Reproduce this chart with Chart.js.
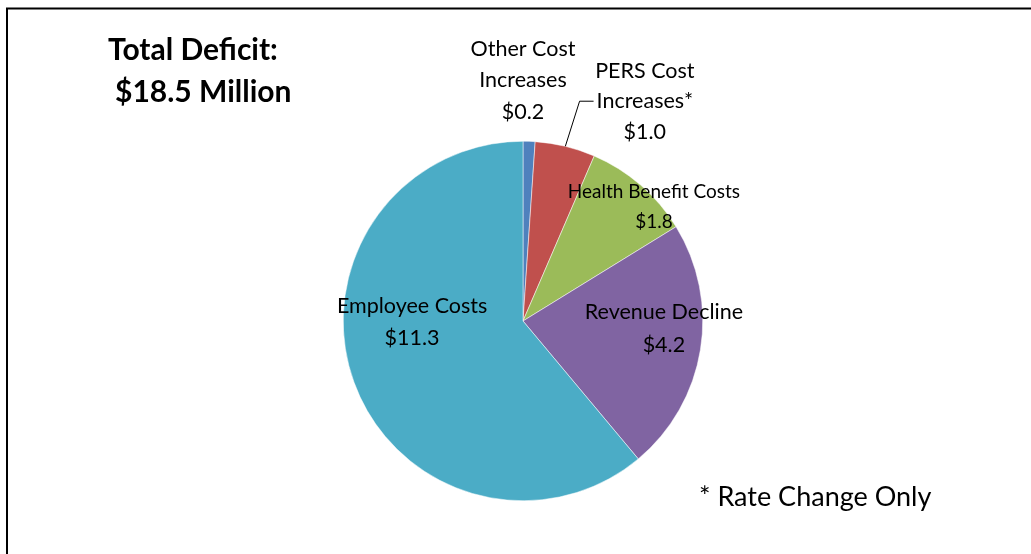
<!DOCTYPE html>
<html>
<head>
<meta charset="utf-8">
<script src="https://cdn.jsdelivr.net/npm/chart.js@4.4.1/dist/chart.umd.min.js"></script>
<style>
  html, body { margin: 0; padding: 0; background: #fff; }
  #wrap { position: relative; width: 1031px; height: 554px; }
  canvas { display: block; }
</style>
</head>
<body>
<div id="wrap"><canvas id="c" width="1031" height="554"></canvas></div>
<script>
// ---- data ----
const categories = [
  ["Other Cost", "Increases"],
  ["PERS Cost", "Increases*"],
  ["Health Benefit Costs"],
  ["Revenue Decline"],
  ["Employee Costs"]
];
const values = [0.2, 1.0, 1.8, 4.2, 11.3];
const valueLabels = ["$0.2", "$1.0", "$1.8", "$4.2", "$11.3"];
const titleLines = ["Total Deficit:", "$18.5 Million"];
const footnote = "* Rate Change Only";

// ---- styles / placement ----
const colors = ["#4F81BD", "#C0504D", "#9BBB59", "#8064A2", "#4BACC6"];
const FONT = "Lato, 'Open Sans', sans-serif";
// label block placement: polar (deg clockwise from top, fraction of radius)
const labelPlace = [
  { angle: 0.0,  r: 1.339, size: 21.5, lineH: 31.5, leader: false },
  { angle: 29.0, r: 1.398, size: 21.5, lineH: 30.5, leader: true },
  { angle: 49.0, r: 0.965, size: 19,   lineH: 30,   leader: false },
  { angle: 93.2, r: 0.785, size: 21.5, lineH: 33,   leader: false },
  { angle: 269.5, r: 0.617, size: 21.5, lineH: 32,  leader: false }
];

const labelPlugin = {
  id: 'sliceLabels',
  afterDatasetsDraw(chart) {
    const ctx = chart.ctx;
    const meta = chart.getDatasetMeta(0);
    ctx.save();
    // frame lines (top and left)
    ctx.strokeStyle = '#000';
    ctx.lineWidth = 2;
    ctx.beginPath();
    ctx.moveTo(7, 554);
    ctx.lineTo(7, 8.5);
    ctx.lineTo(1031, 8.5);
    ctx.stroke();

    meta.data.forEach((arc, i) => {
      const p = arc.getProps(['x', 'y', 'outerRadius', 'startAngle', 'endAngle'], true);
      const pl = labelPlace[i];
      const a = pl.angle * Math.PI / 180;
      const cx = p.x + Math.sin(a) * pl.r * p.outerRadius;
      const cy = p.y - Math.cos(a) * pl.r * p.outerRadius;
      const lines = categories[i].concat([valueLabels[i]]);
      ctx.font = pl.size + 'px ' + FONT;
      ctx.fillStyle = '#000';
      ctx.textAlign = 'center';
      ctx.textBaseline = 'middle';
      const y0 = cy - (lines.length - 1) * pl.lineH / 2;
      lines.forEach((t, k) => ctx.fillText(t, cx, y0 + k * pl.lineH));
      if (pl.leader) {
        const mid = (p.startAngle + p.endAngle) / 2;
        const sx = p.x + Math.cos(mid) * p.outerRadius;
        const sy = p.y + Math.sin(mid) * p.outerRadius;
        const w = ctx.measureText(lines[1]).width;
        const ly = y0 + pl.lineH;
        const ex = cx - w / 2 - 3;
        const bx = ex - 14;
        ctx.strokeStyle = '#000';
        ctx.lineWidth = 1;
        ctx.beginPath();
        ctx.moveTo(sx, sy);
        ctx.lineTo(bx, ly);
        ctx.lineTo(ex, ly);
        ctx.stroke();
      }
    });

    // title
    ctx.font = 'bold 30px ' + FONT;
    ctx.textAlign = 'left';
    ctx.textBaseline = 'middle';
    ctx.fillStyle = '#000';
    ctx.fillText(titleLines[0], 108, 50);
    ctx.fillText(titleLines[1], 115, 92);

    // footnote
    ctx.font = '27px ' + FONT;
    ctx.fillText(footnote, 699, 497);
    ctx.restore();
  }
};

new Chart(document.getElementById('c'), {
  type: 'pie',
  data: {
    labels: categories.map(c => c.join(' ')),
    datasets: [{
      data: values,
      backgroundColor: colors,
      borderColor: '#ffffff',
      borderWidth: 0.5
    }]
  },
  options: {
    responsive: false,
    animation: false,
    layout: { padding: { left: 15, right: 0, top: 141, bottom: 53 } },
    plugins: {
      legend: { display: false },
      tooltip: { enabled: false },
      title: { display: false }
    }
  },
  plugins: [labelPlugin]
});
</script>
</body>
</html>
